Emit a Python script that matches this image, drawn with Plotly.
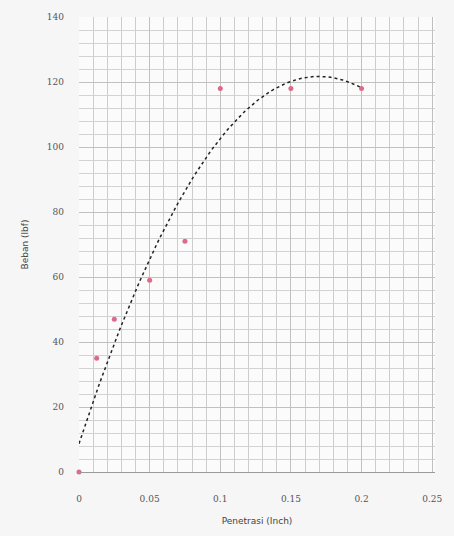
import numpy as np
import plotly.graph_objects as go

# CBR test readings: penetration (inch) vs load (lbf)
penetrasi = [0, 0.0125, 0.025, 0.05, 0.075, 0.1, 0.15, 0.2]
beban = [0, 35, 47, 59, 71, 118, 118, 118]

x_ticks = [0, 0.05, 0.1, 0.15, 0.2, 0.25]
x_tick_labels = ["0", "0.05", "0.1", "0.15", "0.2", "0.25"]
y_ticks = [0, 20, 40, 60, 80, 100, 120, 140]

# second-order polynomial trendline through the readings
coef = np.polyfit(penetrasi, beban, 2)
x_fit = np.linspace(0, 0.2, 120)
y_fit = np.polyval(coef, x_fit)

fig = go.Figure()
fig.add_trace(go.Scatter(
    x=x_fit, y=y_fit, mode="lines",
    line=dict(color="#222222", width=1.5, dash="dot"),
    hoverinfo="skip", showlegend=False,
))
fig.add_trace(go.Scatter(
    x=penetrasi, y=beban, mode="markers",
    marker=dict(color="#dc6a88", size=5, symbol="circle"),
    cliponaxis=False, showlegend=False,
))

tick_font = dict(family="DejaVu Serif", size=9, color="#555555")

fig.update_layout(
    width=454, height=536,
    margin=dict(l=79, r=16, t=15, b=64),
    paper_bgcolor="#f6f6f6",
    plot_bgcolor="#fbfbfb",
    xaxis=dict(
        range=[0, 0.252],
        tickvals=x_ticks, ticktext=x_tick_labels,
        tickfont=tick_font,
        ticklabelstandoff=18,
        showgrid=True, gridcolor="#c0c0c0", gridwidth=1,
        minor=dict(dtick=0.01, showgrid=True, gridcolor="#cdcdcd", gridwidth=1),
        showline=True, linecolor="#9a9a9a", linewidth=1,
        zeroline=False,
        title=dict(text="Penetrasi (Inch)",
                   font=dict(family="DejaVu Sans", size=9, color="#444444"),
                   standoff=14),
    ),
    yaxis=dict(
        range=[0, 140],
        tickvals=y_ticks,
        tickfont=tick_font,
        ticklabelstandoff=14,
        showgrid=True, gridcolor="#c0c0c0", gridwidth=1,
        minor=dict(dtick=4, showgrid=True, gridcolor="#d2d2d2", gridwidth=1),
        showline=False, zeroline=False,
        title=dict(text="Beban (lbf)",
                   font=dict(family="DejaVu Sans", size=9, color="#444444"),
                   standoff=16),
    ),
)

fig.write_html("out.html")
